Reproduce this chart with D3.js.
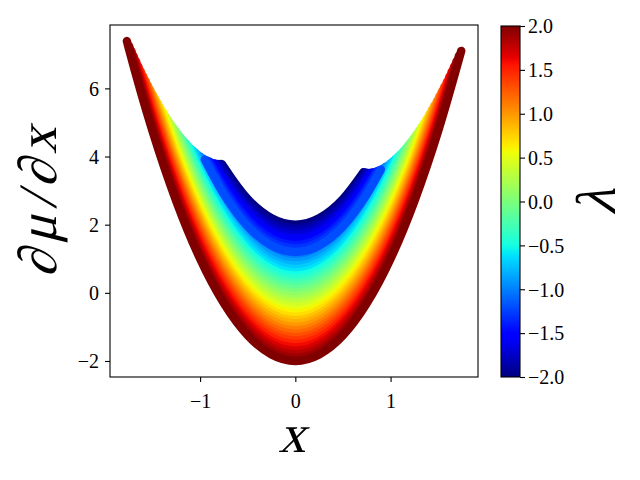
<!DOCTYPE html>
<html>
<head>
<meta charset="utf-8">
<script src="https://cdnjs.cloudflare.com/ajax/libs/d3/7.8.5/d3.min.js"></script>
<style>
  body { margin: 0; background: #fff; }
  text { font-family: "Liberation Serif", "DejaVu Serif", serif; fill: #000; }
</style>
</head>
<body>
<svg width="640" height="480"></svg>
<script>
// one band of points per lambda level
var lambdas = [-2.0, -1.9, -1.8, -1.7, -1.6, -1.5, -1.4, -1.3, -1.2, -1.1, -1.0,
               -0.9, -0.8, -0.7, -0.6, -0.5, -0.4, -0.3, -0.2, -0.1, 0.0,
               0.1, 0.2, 0.3, 0.4, 0.5, 0.6, 0.7, 0.8, 0.9, 1.0,
               1.1, 1.2, 1.3, 1.4, 1.5, 1.6, 1.7, 1.8, 1.9, 2.0];
// lowest point of each band (at x = 0)
var vertexY = [2.0, 1.9, 1.8, 1.7, 1.6, 1.5, 1.4, 1.3, 1.2, 1.1, 1.0,
               0.9, 0.8, 0.7, 0.6, 0.5, 0.4, 0.3, 0.2, 0.1, 0.0,
               -0.1, -0.2, -0.3, -0.4, -0.5, -0.6, -0.7, -0.8, -0.9, -1.0,
               -1.1, -1.2, -1.3, -1.4, -1.5, -1.6, -1.7, -1.8, -1.9, -2.0];
// left end of each band
var leftX = [-0.771, -0.792, -0.813, -0.835, -0.857, -0.880, -0.903, -0.927, -0.951, -0.975, -1.000,
             -1.025, -1.051, -1.076, -1.102, -1.128, -1.154, -1.181, -1.207, -1.234, -1.260,
             -1.286, -1.313, -1.339, -1.366, -1.392, -1.418, -1.444, -1.470, -1.496, -1.521,
             -1.547, -1.572, -1.598, -1.623, -1.647, -1.672, -1.697, -1.721, -1.745, -1.769];
var leftY = [3.78, 3.78, 3.78, 3.79, 3.80, 3.82, 3.85, 3.88, 3.91, 3.95, 4.00,
             4.05, 4.11, 4.18, 4.24, 4.32, 4.40, 4.48, 4.57, 4.66, 4.76,
             4.86, 4.97, 5.08, 5.19, 5.31, 5.43, 5.56, 5.68, 5.81, 5.94,
             6.08, 6.22, 6.36, 6.50, 6.64, 6.79, 6.94, 7.09, 7.24, 7.39];
// right end of each band
var rightX = [0.716, 0.737, 0.758, 0.780, 0.802, 0.825, 0.849, 0.873, 0.898, 0.923, 0.948,
              0.974, 1.000, 1.027, 1.053, 1.080, 1.107, 1.134, 1.162, 1.189, 1.216,
              1.244, 1.271, 1.299, 1.326, 1.353, 1.380, 1.407, 1.434, 1.460, 1.487,
              1.513, 1.539, 1.565, 1.591, 1.617, 1.642, 1.667, 1.692, 1.717, 1.742];
var rightY = [3.54, 3.53, 3.52, 3.52, 3.53, 3.54, 3.56, 3.59, 3.62, 3.65, 3.70,
              3.74, 3.80, 3.86, 3.93, 4.00, 4.08, 4.16, 4.25, 4.34, 4.44,
              4.54, 4.65, 4.76, 4.87, 4.99, 5.11, 5.24, 5.37, 5.50, 5.63,
              5.77, 5.91, 6.05, 6.19, 6.34, 6.49, 6.64, 6.79, 6.95, 7.10];
// shape shared by the bands: rise above the lowest point
var profileX = [-1.75, -1.5, -1.25, -1.0, -0.75, -0.5, -0.25, 0, 0.25, 0.5, 0.75, 1.0, 1.25, 1.5, 1.75];
var profileRise = [9.19, 6.75, 4.69, 3.00, 1.69, 0.75, 0.19, 0, 0.19, 0.75, 1.69, 3.00, 4.69, 6.75, 9.19];

var xTicks = [-1, 0, 1];
var yTicks = [-2, 0, 2, 4, 6];
var cbTicks = [-2.0, -1.5, -1.0, -0.5, 0.0, 0.5, 1.0, 1.5, 2.0];

var plotL = 110, plotR = 478, plotT = 25, plotB = 377;
var cbL = 501, cbR = 520, cbT = 26, cbB = 377;

var svg = d3.select("svg");

var x = d3.scaleLinear().domain([-1.946, 1.918]).range([plotL, plotR]);
var y = d3.scaleLinear().domain([-2.47, 7.86]).range([plotB, plotT]);

// matplotlib jet
var jetR = d3.scaleLinear().domain([0, 0.35, 0.66, 0.89, 1]).range([0, 0, 1, 1, 0.5]);
var jetG = d3.scaleLinear().domain([0, 0.125, 0.375, 0.64, 0.91, 1]).range([0, 0, 1, 1, 0, 0]);
var jetB = d3.scaleLinear().domain([0, 0.11, 0.34, 0.65, 1]).range([0.5, 1, 1, 0, 0]);
var norm = d3.scaleLinear().domain([-2, 2]).range([0, 1]).clamp(true);
function jet(t) {
  return d3.rgb(jetR(t) * 255, jetG(t) * 255, jetB(t) * 255).toString();
}

var bands = lambdas.map(function (lam, i) {
  var pts = [[leftX[i], leftY[i]]];
  profileX.forEach(function (px, j) {
    if (px > leftX[i] && px < rightX[i]) pts.push([px, vertexY[i] + profileRise[j]]);
  });
  pts.push([rightX[i], rightY[i]]);
  return { lam: lam, pts: pts };
});
// the bluest bands were plotted last, on top of the others
var order = bands.filter(function (b) { return b.lam > -1.2; })
  .concat(bands.filter(function (b) { return b.lam <= -1.2; }));

var line = d3.line()
  .x(function (d) { return x(d[0]); })
  .y(function (d) { return y(d[1]); })
  .curve(d3.curveMonotoneX);

svg.append("g").selectAll("path")
  .data(order)
  .enter().append("path")
  .attr("d", function (d) { return line(d.pts); })
  .attr("fill", "none")
  .attr("stroke", function (d) { return jet(norm(d.lam)); })
  .attr("stroke-width", 8.4)
  .attr("stroke-linecap", "round")
  .attr("stroke-linejoin", "round");

// frame
svg.append("rect")
  .attr("x", plotL).attr("y", plotT)
  .attr("width", plotR - plotL).attr("height", plotB - plotT)
  .attr("fill", "none").attr("stroke", "#000").attr("stroke-width", 1.1);

var xAxis = svg.append("g")
  .attr("transform", "translate(0," + plotB + ")")
  .call(d3.axisBottom(x).tickValues(xTicks).tickSize(5).tickFormat(d3.format("d")));
var yAxis = svg.append("g")
  .attr("transform", "translate(" + plotL + ",0)")
  .call(d3.axisLeft(y).tickValues(yTicks).tickSize(5).tickFormat(d3.format("d")));

[xAxis, yAxis].forEach(function (g) {
  g.attr("font-family", null).attr("font-size", null);
  g.select(".domain").remove();
  g.selectAll(".tick line").attr("stroke", "#000").attr("stroke-width", 1.1);
  g.selectAll(".tick text").style("font-size", "20px");
});
xAxis.selectAll(".tick text").attr("y", 31).attr("dy", null);
yAxis.selectAll(".tick text").attr("x", -11).attr("dy", "0.34em");

// colour bar
var defs = svg.append("defs");
var grad = defs.append("linearGradient")
  .attr("id", "jetgrad")
  .attr("x1", 0).attr("y1", 1).attr("x2", 0).attr("y2", 0);
grad.selectAll("stop")
  .data(d3.range(0, 1.0001, 0.01))
  .enter().append("stop")
  .attr("offset", function (d) { return d; })
  .attr("stop-color", function (d) { return jet(d); });

svg.append("rect")
  .attr("x", cbL).attr("y", cbT)
  .attr("width", cbR - cbL).attr("height", cbB - cbT)
  .attr("fill", "url(#jetgrad)")
  .attr("stroke", "#000").attr("stroke-width", 1.1);

var cScale = d3.scaleLinear().domain([-2, 2]).range([cbB, cbT]);
var cAxis = svg.append("g")
  .attr("transform", "translate(" + cbR + ",0)")
  .call(d3.axisRight(cScale).tickValues(cbTicks).tickSize(5).tickFormat(d3.format(".1f")));
cAxis.attr("font-family", null).attr("font-size", null);
cAxis.select(".domain").remove();
cAxis.selectAll(".tick line").attr("stroke", "#000").attr("stroke-width", 1.1);
cAxis.selectAll(".tick text")
  .style("font-size", "20px")
  .attr("x", 8).attr("dy", "0.34em");

// axis labels (upright serif, slanted to look like math italic)
svg.append("text")
  .attr("transform", "translate(" + ((plotL + plotR) / 2 - 2) + ",452) skewX(-14)")
  .attr("text-anchor", "middle")
  .style("font-size", "54px")
  .text("x");

svg.append("text")
  .attr("transform", "translate(56,202) rotate(-90) skewX(-14)")
  .attr("text-anchor", "middle")
  .attr("textLength", 150).attr("lengthAdjust", "spacing")
  .style("font-size", "54px")
  .text("∂μ/∂x");

svg.append("text")
  .attr("transform", "translate(615,202) rotate(-90) skewX(-14)")
  .attr("text-anchor", "middle")
  .style("font-size", "56px")
  .text("λ");
</script>
</body>
</html>
